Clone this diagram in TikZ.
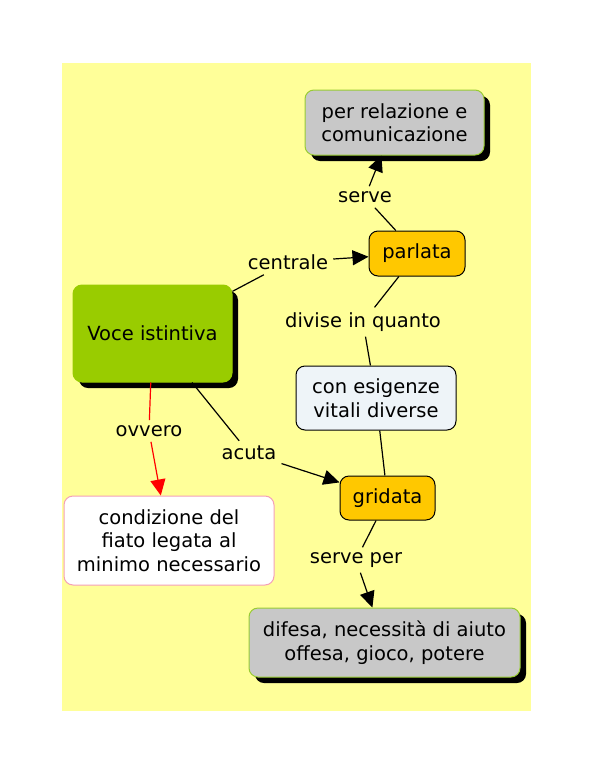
\documentclass[tikz,border=0pt]{standalone}
\usepackage{fontspec}
\setmainfont{DejaVu Sans}
\usetikzlibrary{arrows.meta,shadows}
\definecolor{sfondo}{HTML}{FFFF99}
\definecolor{verde}{HTML}{99CC00}
\definecolor{arancio}{HTML}{FFC800}
\definecolor{grigio}{HTML}{C8C8C8}
\definecolor{bordoverde}{HTML}{99CC33}
\definecolor{azzurro}{HTML}{EEF4F8}
\definecolor{rosa}{HTML}{F4A0B8}
\tikzset{
  concetto/.style={rounded corners=9pt, align=center, inner sep=0pt,
    font=\fontsize{19.5}{23.5}\selectfont, line width=1pt},
  ombra/.style={drop shadow={shadow xshift=6pt, shadow yshift=-6pt,
    fill=black, opacity=1}},
  frase/.style={inner sep=5pt, font=\fontsize{19.5}{23.5}\selectfont},
  linea/.style={line width=1.2pt},
  freccia/.style={line width=1.2pt, -{Triangle[length=16pt,width=15pt]}}
}
\begin{document}
\begin{tikzpicture}[x=1pt,y=-1pt]
                \useasboundingbox (0,0) rectangle (593,769);
                \fill[white] (0,0) rectangle (593,769);
                \fill[sfondo] (62,63) rectangle (531,711);

                \node[concetto, ombra, fill=grigio, draw=bordoverde,
                    minimum width=179pt, minimum height=65pt]
                    (rel) at (394.5,122.5) {per relazione e\\comunicazione};
                \node[concetto, fill=arancio, draw=black,
                    minimum width=96pt, minimum height=45pt]
                    (parlata) at (417,253.5) {parlata};
                \node[concetto, ombra, fill=verde, draw=verde,
                    minimum width=159pt, minimum height=97pt]
                    (voce) at (152.5,333.5) {Voce istintiva};
                \node[concetto, fill=azzurro, draw=black,
                    minimum width=160pt, minimum height=64pt]
                    (esig) at (376,398) {con esigenze\\vitali diverse};
                \node[concetto, fill=arancio, draw=black,
                    minimum width=95pt, minimum height=44pt]
                    (gridata) at (387.5,498) {gridata};
                \node[concetto, fill=white, draw=rosa,
                    minimum width=210pt, minimum height=89pt]
                    (cond) at (169,540.5) {condizione del\\fiato legata al\\minimo necessario};
                \node[concetto, ombra, fill=grigio, draw=bordoverde,
                    minimum width=271pt, minimum height=69pt]
                    (dif) at (384.5,642.5) {difesa, necessità di aiuto\\offesa, gioco, potere};

                \node[frase] (serve) at (365,197) {serve};
                \node[frase] (centrale) at (288,262) {centrale};
                \node[frase] (divise) at (363,322) {divise in quanto};
                \node[frase] (ovvero) at (149,431) {ovvero};
                \node[frase] (acuta) at (249,453) {acuta};
                \node[frase] (servep) at (356,560) {serve per};

                \draw[linea] (parlata) -- (serve);
                \draw[freccia] (serve) -- (rel);
                \draw[linea] (voce) -- (centrale);
                \draw[freccia] (centrale) -- (parlata);
                \draw[linea] (parlata) -- (divise);
                \draw[linea] (divise) -- (esig);
                \draw[linea] (esig) -- (gridata);
                \draw[linea] (voce) -- (acuta);
                \draw[freccia] (acuta) -- (gridata);
                \draw[linea, red] (voce) -- (ovvero);
                \draw[freccia, red] (ovvero) -- (cond);
                \draw[linea] (gridata) -- (servep);
                \draw[freccia] (servep) -- (dif);
\end{tikzpicture}
\end{document}
